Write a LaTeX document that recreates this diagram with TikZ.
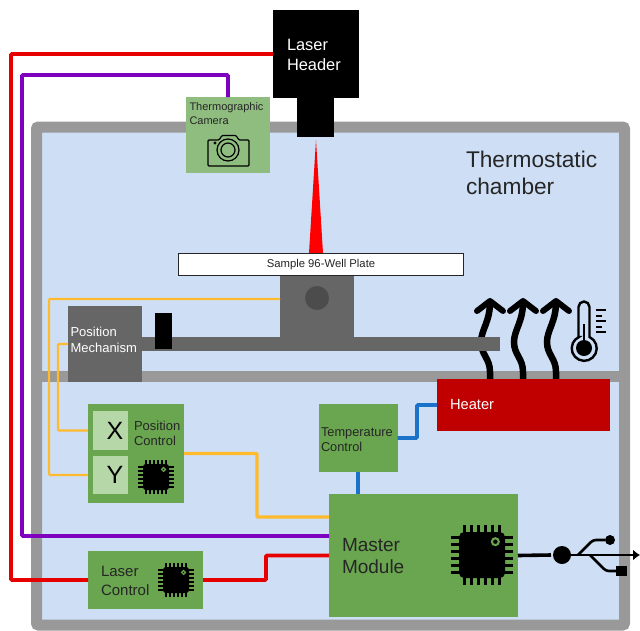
\documentclass[tikz,border=0pt]{standalone}
\usepackage{fontspec}
\setmainfont{Liberation Sans}
\usetikzlibrary{positioning,calc,arrows.meta}
\definecolor{chamberblue}{HTML}{CEDFF5}
\definecolor{framegray}{HTML}{999999}
\definecolor{darkgray}{HTML}{666666}
\definecolor{ctrlgreen}{HTML}{6AA54F}
\definecolor{camgreen}{HTML}{8FBC7F}
\definecolor{axisgreen}{HTML}{B6D7A8}
\definecolor{heatred}{HTML}{C00000}
\definecolor{wirered}{HTML}{E60000}
\definecolor{wirepurple}{HTML}{8000C0}
\definecolor{wireyellow}{HTML}{FFBA2E}
\definecolor{wireblue}{HTML}{1A73C9}
\tikzset{box/.style={rectangle,inner sep=0pt,outer sep=0pt},}
\tikzset{label/.style={inner sep=0pt,outer sep=0pt,align=left,anchor=west},}
\tikzset{redwire/.style={wirered,line width=3.6pt},}
\tikzset{purplewire/.style={wirepurple,line width=3.6pt},}
\tikzset{yellowwire/.style={wireyellow,line width=2.4pt},}
\tikzset{bluewire/.style={wireblue,line width=3.6pt},}
\newcommand{\fsize}[2]{\fontsize{#1}{#2}\selectfont}

\begin{document}
\begin{tikzpicture}[x=1pt,y=-1pt]
	\newcommand{\chipicon}[3]{
		\foreach \p in {-5,-3,-1,1,3,5} {
			\draw[black,line width=#3*0.12pt] (#1+\p*#3*0.155,#2-#3*1.3) -- (#1+\p*#3*0.155,#2+#3*1.3);
			\draw[black,line width=#3*0.12pt] (#1-#3*1.35,#2+\p*#3*0.155) -- (#1+#3*1.35,#2+\p*#3*0.155);
		}
		\fill[black,rounded corners=#3*0.22pt] (#1-#3,#2-#3) rectangle (#1+#3,#2+#3);
		\draw[ctrlgreen,line width=#3*0.09pt] (#1+#3*0.58,#2-#3*0.58) circle[radius=#3*0.15];
	}
	\useasboundingbox (0,0) rectangle (640,630);
	% chamber
	\fill[chamberblue] (36,127) rectangle (624,625);
	\draw[framegray,line width=11pt,rounded corners=2pt] (36.5,127) rectangle (624.5,625);
	\draw[framegray,line width=11pt] (36.5,376.5) -- (624.5,376.5);
	\node[label,text=black!85,font=\fsize{22.7}{27}] (title) at (466,173) {Thermostatic\\chamber};
	% laser
	\fill[red] (316,140) -- (323,253) -- (309,253) -- cycle;
	\node[box,fill=black,minimum width=86pt,minimum height=88pt] (head) at (316,54) {};
	\node[box,fill=black,minimum width=37pt,minimum height=39pt] (nozzle) at (315.5,117.5) {};
	\node[label,white,font=\fsize{16.4}{20}] (headtxt) at (287,55) {Laser\\Header};
	% camera
	\node[box,fill=camgreen,minimum width=84pt,minimum height=76pt] (cam) at (228,135) {};
	\node[label,text=black!85,font=\fsize{11}{14}] (camtxt) at (189.5,114) {Thermographic\\Camera};
	\draw[black,line width=1.2pt,rounded corners=1pt] (208,166) -- (208,140) -- (219,140) -- (222,135.5) -- (236,135.5) -- (239,140) -- (249,140) -- (249,166) -- cycle;
	\draw[black,line width=1.2pt] (228,150) circle[radius=11];
	\draw[black,line width=1.2pt] (228,150) circle[radius=7];
	\fill[black] (215,143) circle[radius=1.6];
	% wavy arrows
	\foreach \hx in {490,523,556} {
		\draw[black,line width=6.5pt] (\hx,379) -- (\hx,372) .. controls (\hx,358) and (\hx-9,355) .. (\hx-9,342) .. controls (\hx-9,330) and (\hx,322) .. (\hx,302);
		\draw[black,line width=6pt,line cap=round,line join=round] (\hx-13,311) -- (\hx,301) -- (\hx+13,311);
	}
	% thermometer
	\draw[black,line width=2.4pt,fill=chamberblue] (578.5,337) -- (578.5,307) arc[start angle=180,end angle=360,radius=5.5] -- (589.5,337) arc[start angle=-65,end angle=245,radius=12.5] -- cycle;
	\fill[black] (584,348) circle[radius=8];
	\draw[black,line width=2.5pt] (584,324) -- (584,345);
	\foreach \ty/\tx in {310/606,316/602,321/606,327/602,332/606} {
		\draw[black,line width=1.8pt] (596,\ty) -- (\tx,\ty);
	}
	% stage
	\node[box,fill=darkgray,minimum width=74pt,minimum height=62pt] (stage) at (317,307) {};
	\fill[black!70] (317,298) circle[radius=12];
	\node[box,fill=darkgray,minimum width=358pt,minimum height=14pt] (rail) at (321,344) {};
	\node[box,fill=black,minimum width=17pt,minimum height=36pt] (slider) at (163.5,331) {};
	\node[box,draw=black!85,line width=1.3pt,fill=white,minimum width=285pt,minimum height=22pt,text=black!85,font=\fsize{11.3}{13}] (plate) at (321,264.5) {Sample 96-Well Plate};
	\node[box,fill=darkgray,minimum width=74pt,minimum height=76pt] (mech) at (105,344) {};
	\node[label,white,font=\fsize{13}{16}] (mechtxt) at (70.5,340) {Position\\Mechanism};
	% control boxes
	\node[box,fill=ctrlgreen,minimum width=96pt,minimum height=99pt] (posctrl) at (136,453.5) {};
	\node[box,fill=axisgreen,minimum width=35pt,minimum height=39pt,font=\fsize{25}{28}] (xaxis) at (110.5,430.5) {\hspace*{9pt}X};
	\node[box,fill=axisgreen,minimum width=35pt,minimum height=38pt,font=\fsize{25}{28}] (yaxis) at (110.5,475) {\hspace*{9pt}Y};
	\node[label,text=black!85,font=\fsize{13}{15}] (postxt) at (134,433.5) {Position\\Control};
	\chipicon{156}{477}{13}
	\node[box,fill=ctrlgreen,minimum width=79pt,minimum height=68pt] (tempctrl) at (358,438) {};
	\node[label,text=black!85,font=\fsize{12.8}{15}] (temptxt) at (321,440) {Temperature\\Control};
	\node[box,fill=heatred,minimum width=173pt,minimum height=52pt] (heater) at (523.5,405) {};
	\node[label,white,font=\fsize{14.7}{17}] (heattxt) at (450,405) {Heater};
	\node[box,fill=ctrlgreen,minimum width=115pt,minimum height=58pt] (lasctrl) at (145.5,580) {};
	\node[label,text=black!85,font=\fsize{15}{19}] (lastxt) at (101,580.5) {Laser\\Control};
	\chipicon{176}{580}{13}
	\node[box,fill=ctrlgreen,minimum width=189pt,minimum height=123pt] (master) at (423.5,555.5) {};
	\node[label,text=black!85,font=\fsize{19}{22}] (mastxt) at (342,556) {Master\\Module};
	\chipicon{482}{555}{23}
	% wires
	\draw[redwire,rounded corners=1pt] (head.west) -| (11,580) -- (lasctrl.west);
	\draw[redwire,rounded corners=1pt] (lasctrl.east) -- (266,580) |- (master.west);
	\draw[purplewire,rounded corners=1pt] (cam.north) |- (22,75) |- ([yshift=19.5pt]master.west);
	\draw[yellowwire,rounded corners=1pt] ([yshift=8pt]stage.west) -| (49,475) -- (yaxis.west -| posctrl.west);
	\draw[yellowwire,rounded corners=1pt] (mech.west) -- (58,344) |- (xaxis.west -| posctrl.west);
	\draw[yellowwire,line width=3.4pt,rounded corners=1pt] (posctrl.east) -- (257,453.5) |- ([yshift=38.5pt]master.west);
	\draw[bluewire,rounded corners=1pt] (tempctrl.east) -- (417,438) |- (heater.west);
	\draw[bluewire] (tempctrl.south -| 358,472) -- (master.north -| 358,494);
	% usb
	\node[circle,fill=black,inner sep=0pt,outer sep=0pt,minimum size=18pt] (usbdot) at (562,555) {};
	\node[circle,fill=black,inner sep=0pt,outer sep=0pt,minimum size=10pt] (usbup) at (610,540) {};
	\node[box,fill=black,minimum width=11pt,minimum height=10pt] (usbdn) at (621.5,571) {};
	\coordinate (usbtip) at (640,555);
	\draw[black,line width=3.6pt] (master.east) -- (551,555);
	\draw[-{Latex[length=7pt,width=11pt]},black,line width=2.2pt] (usbdot.east) -- (usbtip);
	\draw[black,line width=2.6pt,rounded corners=3pt] (578,555) -- (593,540) -- (usbup.west);
	\draw[black,line width=2.6pt,rounded corners=3pt] (590,555) -- (606,571) -- (usbdn.west);
\end{tikzpicture}
\end{document}
